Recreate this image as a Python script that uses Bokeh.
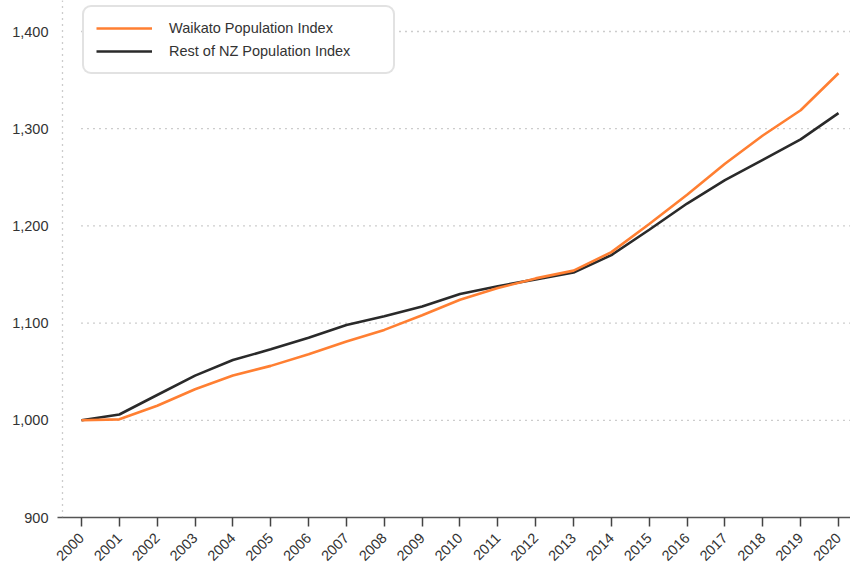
import math
from bokeh.plotting import figure
from bokeh.models import (FixedTicker, NumeralTickFormatter, Span, Legend, LegendItem, Range1d)
from bokeh.embed import file_html
from bokeh.resources import INLINE

years = list(range(2000, 2021))
waikato = [1000, 1001, 1015, 1032, 1046, 1056, 1068, 1081, 1093, 1108, 1124, 1136, 1146, 1154,
           1173, 1202, 1232, 1264, 1293, 1319, 1357]
rest_nz = [1000, 1006, 1026, 1046, 1062, 1073, 1085, 1098, 1107, 1117, 1130, 1138, 1145, 1152,
           1170, 1196, 1223, 1247, 1268, 1289, 1316]
y_ticks = [900, 1000, 1100, 1200, 1300, 1400]
series_names = ["Waikato Population Index", "Rest of NZ Population Index"]

FONT = "Liberation Sans"
TXT = "#333333"
GRID = "#9a9a9a"

X_START, X_END = 1999.366, 2020.317
p = figure(width=850, height=569, output_backend="svg", toolbar_location=None,
           x_range=Range1d(X_START, X_END), y_range=Range1d(900, 1431.9),
           min_border_left=57, min_border_right=0, min_border_top=0, min_border_bottom=52)
p.outline_line_color = None
p.background_fill_color = "white"
p.border_fill_color = "white"

# axes
p.xaxis.ticker = FixedTicker(ticks=years)
p.xaxis.major_label_orientation = math.pi / 4
p.xaxis.axis_line_color = "#555555"
p.xaxis.axis_line_width = 1.5
p.xaxis.major_tick_line_color = "#444444"
p.xaxis.major_tick_line_width = 1.5
p.xaxis.major_tick_out = 9
p.xaxis.major_tick_in = 0
p.xaxis.minor_tick_line_color = None
p.xaxis.major_label_text_font = FONT
p.xaxis.major_label_text_font_size = "14.5px"
p.xaxis.major_label_text_color = TXT
p.xaxis.major_label_standoff = 9

p.yaxis.ticker = FixedTicker(ticks=y_ticks)
p.yaxis.formatter = NumeralTickFormatter(format="0,0")
p.yaxis.axis_line_color = None
p.yaxis.major_tick_line_color = None
p.yaxis.major_tick_out = 0
p.yaxis.major_tick_in = 0
p.yaxis.minor_tick_line_color = None
p.yaxis.minor_tick_out = 0
p.yaxis.major_label_text_font = FONT
p.yaxis.major_label_text_font_size = "14.5px"
p.yaxis.major_label_text_color = TXT
p.yaxis.major_label_standoff = 9

# grid: dotted lines starting at the first year
p.xgrid.grid_line_color = None
p.ygrid.grid_line_color = None
grid_vals = y_ticks[1:]
p.segment(x0=[years[0]] * len(grid_vals), x1=[X_END] * len(grid_vals),
          y0=grid_vals, y1=grid_vals, line_color=GRID, line_dash="1 5", line_width=1.3)

vline = Span(location=1999.498, dimension="height", line_color=GRID,
             line_dash="1 5", line_width=1.3)
p.add_layout(vline)

r_rest = p.line(years, rest_nz, line_color="#2a2a2a", line_width=2.6)
r_wai = p.line(years, waikato, line_color="#ff7f32", line_width=2.6)

legend = Legend(items=[LegendItem(label=series_names[0], renderers=[r_wai]),
                       LegendItem(label=series_names[1], renderers=[r_rest])],
                location=(25, 443), margin=0, padding=12, spacing=5,
                label_height=18, glyph_height=18, glyph_width=56, label_standoff=17,
                label_width=212,
                label_text_font=FONT, label_text_font_size="14.5px", label_text_color=TXT,
                border_line_color="#c6c6c6", border_line_width=2.2,
                background_fill_color="white", background_fill_alpha=1.0)
legend.border_radius = 9
p.add_layout(legend)

open("out.html", "w").write(file_html(p, INLINE))
